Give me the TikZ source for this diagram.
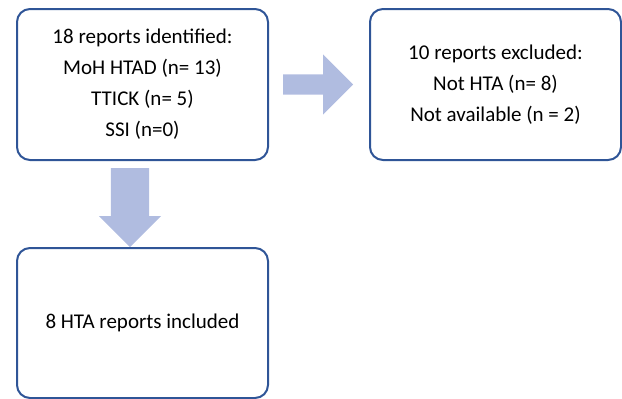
\documentclass[tikz,border=0pt]{standalone}
\usepackage{fontspec}
\setmainfont{Carlito}
\usetikzlibrary{positioning, shapes.arrows}
\definecolor{boxblue}{RGB}{47,85,151}
\definecolor{arrowblue}{RGB}{176,188,224}
\tikzstyle{report}=[draw=boxblue, line width=2pt, rounded corners=13pt, minimum width=251pt, minimum height=151pt, align=center, font=\fontsize{21}{31}\selectfont]
\tikzstyle{bigarrow}=[single arrow, fill=arrowblue, inner xsep=0pt]

\begin{document}
\begin{tikzpicture}
  \useasboundingbox (0,0) rectangle (622pt,-399pt);
  \node[report] (identified) at (142.5pt,-84.5pt) {18 reports identified:\\MoH HTAD (n= 13)\\TTICK (n= 5)\\SSI (n=0)};
  \node[report] (excluded) [right=100pt of identified] {10 reports excluded:\\Not HTA (n= 8)\\Not available (n = 2)};
  \node[report, minimum height=150pt] (included) [below=86pt of identified] {8 HTA reports included};
  \node[bigarrow, minimum height=70pt, inner ysep=10pt, single arrow head extend=20pt] (toexcluded) [right=14pt of identified] {};
  \node[bigarrow, rotate=-90, anchor=tail, minimum height=79pt, inner ysep=19pt, single arrow head extend=12pt] (toincluded) at ([xshift=-12.5pt, yshift=-7pt]identified.south) {};
\end{tikzpicture}
\end{document}
